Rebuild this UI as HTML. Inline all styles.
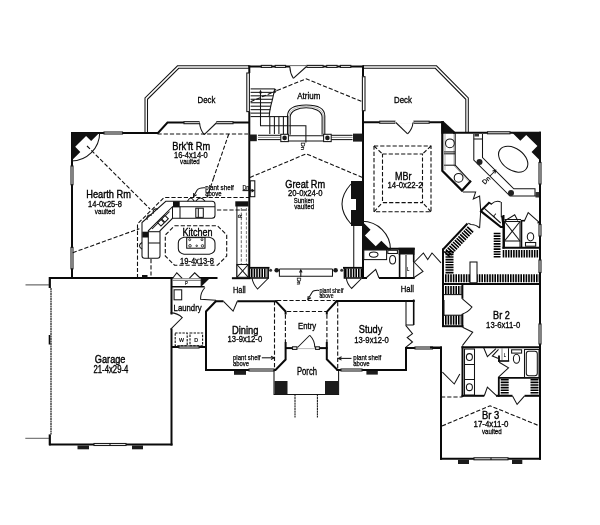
<!DOCTYPE html>
<html><head><meta charset="utf-8"><title>Floor plan</title>
<style>
html,body{margin:0;padding:0;background:#fff;}
body{width:600px;height:525px;overflow:hidden;}
svg{display:block;font-family:"Liberation Sans",sans-serif;}
.w{fill:none;stroke:#0a0a0a;stroke-linecap:butt;stroke-linejoin:miter;}
.t{fill:none;stroke:#141414;stroke-width:1.05;}
.d{fill:none;stroke:#111;stroke-width:1.1;stroke-dasharray:4.2 2;}
.tf{fill:#fff;stroke:#141414;stroke-width:1.05;}
.win{fill:#fff;stroke:#1c1c1c;stroke-width:1.1;}
text{fill:#000;stroke:#000;stroke-width:.2px;}
svg{filter:grayscale(1) blur(0.35px);}
</style></head><body>
<svg width="600" height="525" viewBox="0 0 600 525">
<rect width="600" height="525" fill="#fff"/>
<polyline class="t" points="145,133 145,98 177.5,65.8 249,65.8" />
<polyline class="t" points="147.5,133 147.5,99.3 178.7,68.3 249,68.3" />
<polyline class="t" points="363,65.8 436.5,65.8 468.3,98 468.3,132.5" />
<polyline class="t" points="363,68.3 435.3,68.3 465.8,99.3 465.8,132.5" />
<polyline class="w" style="stroke-width:2.0" points="71,133 158,133 167.5,122.5 249.5,122.5" />
<rect class="win" x="104" y="132" width="18.5" height="2"/>
<rect class="win" x="184" y="121.7" width="15.6" height="2"/>
<rect class="win" x="216.3" y="121.7" width="16.7" height="2"/>
<rect fill="#fff" x="199.6" y="121" width="16.7" height="3.4"/>
<polyline class="t" points="216.25,123 204.2,134.6" />
<path class="t" d="M204.2,134.6 Q200,129.5 199.6,123"/>
<polyline class="w" style="stroke-width:2.0" points="72,132 72,279" />
<rect class="win" x="71" y="166" width="2" height="18.7"/>
<rect class="win" x="71" y="247.4" width="2" height="21.4"/>
<polygon points="71.2,132.5 99.7,132.5 91.15,141.05 86.0588,135.959 75.2288,146.789 80.32,151.88 71.2,161" fill="#111" />
<path class="t" d="M99.7,132.5 A28.5,28.5 0 0 1 71.2,161"/>
<polyline class="d" points="157.5,134 248,134" />
<polyline class="d" points="228.75,134 213.75,177.5" />
<polyline class="d" points="213.75,177.5 207,197.5" />
<polyline class="d" points="87,146 150,209" />
<polyline class="d" points="72.7,252.7 139.4,228.7" />
<polyline class="w" style="stroke-width:2.0" points="49,278 171,278" />
<polyline class="w" style="stroke-width:2.0" points="171.5,277 171.5,445.5" />
<polyline class="w" style="stroke-width:2.0" points="49,444.5 172.5,444.5" />
<polyline class="w" style="stroke-width:2.2" points="49.8,277 49.8,288" />
<polyline class="w" style="stroke-width:2.2" points="49.8,434.4 49.8,445.3" />
<polyline class="t" points="51,288 51,434.5" style="stroke-dasharray:2 0.5;stroke-width:1.25;stroke:#222"/>
<polyline class="w" style="stroke-width:1.6" points="49.5,335 49.5,344.5" />
<polyline class="t" points="25.5,284.9 49,284.9" style="stroke:#333;stroke-width:.9"/>
<polyline class="t" points="25.3,438.3 49,438.3" style="stroke:#333;stroke-width:.8"/>
<rect class="win" x="94" y="443.5" width="32" height="2"/>
<polyline class="t" points="110,443.3 110,445.7" />
<rect x="77.5" y="445.5" width="11.5" height="3.8" fill="#1c1c1c"/>
<rect x="132" y="445.5" width="11" height="3.8" fill="#1c1c1c"/>
<rect fill="#fff" x="169.8" y="314.5" width="3.4" height="14"/>
<path class="t" d="M170.5,329.3 L182.3,317.6 A16.6,16.6 0 0 0 170.5,312.9"/>
<polyline class="w" style="stroke-width:2.0" points="171,278 173,278" />
<polyline class="w" style="stroke-width:2.0" points="200,278 217.5,278" />
<polyline class="w" style="stroke-width:2.0" points="231.9,278.2 250.5,278.2" />
<polyline class="t" points="172.5,280.4 201.2,280.4" style="stroke:#555;stroke-width:.8"/>
<polyline class="t" points="201.2,279 201.2,286.4" />
<polyline class="w" style="stroke-width:1.6" points="171,286.8 204.6,286.8" />
<polyline class="t" points="172.5,278.5 176.8,272.8 182.2,278.3" />
<polyline class="t" points="189.3,278.3 194.7,272.8 200.6,278.5" />
<polyline class="t" points="172.5,278.6 201,278.6" style="stroke:#666;stroke-width:.8"/>
<polygon points="201.2,278.6 209.5,278.6 201.2,286.8" fill="#111" />
<text x="185" y="285.4" font-size="5.6" textLength="2.8" lengthAdjust="spacingAndGlyphs" style="stroke-width:0.19px" >P</text>
<polyline class="w" style="stroke-width:2.0" points="248.5,66.4 364,66.4" />
<rect class="win" x="261.3" y="65.4" width="10.4" height="2"/>
<rect class="win" x="275.2" y="65.4" width="10.4" height="2"/>
<rect class="win" x="306.8" y="65.4" width="16.3" height="2"/>
<rect class="win" x="326.7" y="65.4" width="10.4" height="2"/>
<rect class="win" x="340.4" y="65.4" width="10.4" height="2"/>
<rect fill="#fff" x="290" y="64.7" width="16.3" height="3.4"/>
<polyline class="t" points="290,65.6 306.3,65.6" style="stroke:#444;stroke-width:.8"/>
<polyline class="t" points="306.5,66.5 293.3,78.3" />
<path class="t" d="M293.3,78.3 Q290,73 289.8,66.5"/>
<polyline class="w" style="stroke-width:2.0" points="249.3,65.4 249.3,73" />
<polyline class="w" style="stroke-width:2.0" points="249.3,111.6 249.3,278" />
<rect class="win" x="246.8" y="73" width="2.6" height="38.6"/>
<polyline class="w" style="stroke-width:2.0" points="363,65.4 363,76.7" />
<polyline class="w" style="stroke-width:2.0" points="363,110.7 363,279" />
<rect class="win" x="362.4" y="76.7" width="2.6" height="34"/>
<polyline class="d" points="277,90.5 306.2,78.8 362.5,101.8" />
<polyline class="d" points="250,177.5 306.2,153.8 362.5,177.5" />
<polyline class="t" points="258,135.3 281,135.3" />
<polyline class="t" points="331,135.3 352.5,135.3" />
<polyline class="t" points="258,139.6 281,139.6" />
<polyline class="t" points="331,139.6 352.5,139.6" />
<polyline class="t" points="258,137.4 281,137.4" style="stroke:#666;stroke-width:.7"/>
<polyline class="t" points="331,137.4 352.5,137.4" style="stroke:#666;stroke-width:.7"/>
<rect x="249.5" y="134.5" width="7.3" height="6.7" fill="#1c1c1c"/>
<rect x="353" y="133.6" width="9.5" height="8" fill="#1c1c1c"/>
<polyline class="t" points="250.6,88.9 274.7,88.9" />
<polyline class="t" points="250.6,92.36 273.658,92.36" />
<polyline class="t" points="250.6,95.82 272.886,95.82" />
<polyline class="t" points="250.6,99.28 272.19,99.28" />
<polyline class="t" points="250.6,102.74 271.541,102.74" />
<polyline class="t" points="250.6,106.2 270.924,106.2" />
<polyline class="t" points="250.6,109.66 270.331,109.66" />
<polyline class="t" points="250.6,113.12 269.757,113.12" />
<polyline class="t" points="250.6,116.58 269.2,116.58" />
<path class="t" d="M274.7,88.9 Q272.5,100 271,105 Q269.5,111 269.2,116.6"/>
<path class="t" d="M274.7,88.9 Q277,90 275.5,92 Q274.5,93 273.8,92.6"/>
<polyline class="t" points="269.2,116.6 288.4,116.6" />
<polyline class="t" points="269.8,116.6 269.8,134" />
<polyline class="t" points="274.4,116.6 274.4,134" />
<polyline class="t" points="278.9,116.6 278.9,134" />
<polyline class="t" points="283.4,116.6 283.4,134" />
<polyline class="t" points="287.9,116.6 287.9,134" />
<polyline class="t" points="260.5,91 260.5,125.8 305.9,125.8 305.9,142.5" />
<polygon points="259,93.3 260.5,89.6 262,93.3" fill="#111" />
<polyline class="d" points="250.6,101.7 275.4,91.2" />
<path class="t"  d="M287.5,134.8 V116 C287.5,108 296,105 306.15,105 C316.3,105 324.8,108 324.8,116 V134.8"/>
<path class="t"  d="M290.2,134.8 V117.08 C290.2,110.7 298.7,107.7 306.15,107.7 C313.6,107.7 322.1,110.7 322.1,117.08 V134.8"/>
<path class="t" style="stroke:#888;stroke-width:.6" d="M288.85,134.8 V116.54 C288.85,109.35 297.35,106.35 306.15,106.35 C314.95,106.35 323.45,109.35 323.45,116.54 V134.8"/>
<polyline class="t" points="288.9,135.8 323.5,135.8" />
<polyline class="t" points="288.9,141 323.5,141" />
<rect class="tf" x="280.8" y="134.3" width="7.6" height="7.3"/>
<circle cx="284.6" cy="137.9" r="2.3" fill="#1a1a1a"/>
<rect class="tf" x="323.6" y="134.3" width="7.6" height="7.3"/>
<circle cx="327.4" cy="137.9" r="2.3" fill="#1a1a1a"/>
<text transform="translate(300.8,142.6) rotate(90)" font-size="5.8">Dn</text>
<rect class="tf" x="250.3" y="180.8" width="4.5" height="15.9"/>
<text x="242.5" y="189.6" font-size="7" textLength="6.8" lengthAdjust="spacingAndGlyphs" style="stroke-width:0.24px" >Dn</text>
<polyline class="t" points="242.5,190.6 253.5,190.6" />
<polyline class="t" points="251.5,189.2 253.8,190.6 251.5,192" />
<polygon points="351,181 362.5,181 362.5,226 351,226 351,210 356,210 356,199 351,199" fill="#111" />
<path class="t" d="M351,184 Q333,204 351,224"/>
<polyline class="t" points="353.75,226 353.75,267" />
<line x1="251" y1="273" x2="267.5" y2="273" stroke="#000" stroke-width="9" stroke-dasharray="1.6 1.0"/>
<line x1="345" y1="273" x2="362.5" y2="273" stroke="#000" stroke-width="9" stroke-dasharray="1.6 1.0"/>
<polyline class="w" style="stroke-width:1.8" points="249,267.8 269.5,267.8" />
<polyline class="w" style="stroke-width:1.8" points="343,267.8 363,267.8" />
<polyline class="w" style="stroke-width:1.3" points="250,278 268.3,278 268.3,267.8" />
<polyline class="w" style="stroke-width:1.3" points="362,278 344.3,278 344.3,267.8" />
<circle cx="276.7" cy="270.2" r="2.3" fill="#1a1a1a"/>
<circle cx="335.6" cy="270.2" r="2.3" fill="#1a1a1a"/>
<circle cx="270.6" cy="270.2" r="1.5" fill="#333"/>
<circle cx="341.7" cy="270.2" r="1.5" fill="#333"/>
<polyline class="t" points="279.4,268.9 332.5,268.9" />
<polyline class="t" points="279.4,268.9 279.4,276.3 332.5,276.3 332.5,268.9" />
<polyline class="t" points="300.8,270.5 300.8,277" />
<polyline class="t" points="299.5,272.6 300.8,270 302.1,272.6" />
<text transform="translate(296.9,277.4) rotate(90)" font-size="5.8">Dn</text>
<path class="t" d="M268.5,278 L257.5,289 Q253,284 252,278"/>
<path class="t" d="M361.5,278.5 L351.6,288.4 Q347,284 346.3,278"/>
<path class="tf" d="M165.8,201.3 H212 Q215,201.3 215,204.3 V215.3 Q215,218.3 212,218.3 H172.5 L160,230.8 V255.8 Q160,258.3 157.5,258.3 H144.5 Q142,258.3 142,255.8 V222.5 Z"/>
<polyline class="t" points="215,206.7 172.5,206.7 148.3,230.8 148.3,258.3" />
<polyline class="t" points="169.5,211.5 152,229" />
<polyline class="t" points="172.5,206.7 172.5,218.3" />
<polyline class="t" points="180,206.7 180,218.3" />
<polyline class="t" points="148.3,231.7 160,231.7" />
<polyline class="t" points="148.3,243 160,243" />
<rect class="tf" x="195.8" y="208.2" width="7.5" height="9.2"/>
<polyline class="t" points="198.3,208.2 198.3,217.4" />
<g transform="translate(163,220.8) rotate(-45)"><rect class="tf" x="-5.2" y="-2.3" width="4.8" height="4.6"/><rect class="tf" x="0.4" y="-2.3" width="4.8" height="4.6"/></g>
<path class="t" d="M187.5,201.3 q3.3,-6.5 6.7,0"/>
<path class="t" d="M195.8,201.3 q4.6,-6.5 9.2,0"/>
<path class="t" d="M158,209.1 q-6,-1.2 -4.6,4.6"/>
<path class="t" d="M151.8,215.3 q-6,-1.2 -4.6,4.6"/>
<path class="t" d="M142,242.5 q-5,3.3 0,6.6"/>
<rect x="173" y="201.3" width="6.7" height="5.9" fill="#111"/>
<rect x="142.3" y="231.7" width="6" height="5.8" fill="#111"/>
<rect x="235.3" y="201.3" width="13.2" height="5.2" fill="#111"/>
<rect x="142" y="275" width="5.5" height="3" fill="#111"/>
<polyline class="d" points="250,197.5 164,197.5 137.5,224 137.5,277.5" />
<polyline class="d" points="151,259 151,277.5" />
<polyline class="d" points="217,210 250,210" />
<polyline class="d" points="174.5,225.8 217.5,225.8 226.7,235 226.7,256 217.5,265.2 174.5,265.2 165.3,256 165.3,235 174.5,225.8" />
<path class="tf" d="M184,237.2 H209.3 Q215,238.5 215,243 V248.5 Q215,253 209.3,254.2 H184 Q178.3,253 178.3,248.5 V243 Q178.3,238.5 184,237.2 Z"/>
<rect class="tf" x="186.7" y="237.6" width="18.3" height="10.6"/>
<circle class="t" cx="189.7" cy="239.7" r="1" fill="none" style="stroke-width:.8"/>
<circle class="t" cx="202" cy="239.7" r="1" fill="none" style="stroke-width:.8"/>
<circle class="t" cx="190" cy="245.8" r="1.3" fill="none" style="stroke-width:.8"/>
<circle class="t" cx="196.7" cy="245.8" r="0.8" fill="none" style="stroke-width:.8"/>
<circle class="t" cx="202.5" cy="245.8" r="1.2" fill="none" style="stroke-width:.8"/>
<polyline class="t" points="236.9,205.6 236.9,277.5" />
<polyline class="d" points="241.3,208 241.3,264" style="stroke:#444;stroke-width:.8;stroke-dasharray:3 1.6"/>
<polyline class="d" points="246.4,208 246.4,264" style="stroke:#555;stroke-width:.8;stroke-dasharray:3 1.6"/>
<rect class="tf" x="236.9" y="264.5" width="11.4" height="12.8"/>
<polyline class="t" points="236.9,264.5 248.3,277.3" />
<polyline class="t" points="248.3,264.5 236.9,277.3" />
<text transform="translate(242.3,216) rotate(-90)" font-size="4.5" text-anchor="middle">R</text>
<path class="t" d="M205,187.8 Q199,187.5 197,190.2 L193.5,196.6"/>
<polyline class="t" points="193.7,193 193.5,196.6 196.6,194.8" />
<polyline class="w" style="stroke-width:2.0" points="215.5,301.3 277,301.3" />
<polyline class="w" style="stroke-width:2.0" points="216.3,300.8 206,311.5 206,371" />
<polyline class="w" style="stroke-width:2.0" points="205,370 275.5,370 285.6,359.5 285.6,342" />
<polyline class="w" style="stroke-width:2.0" points="275.3,300.6 285.6,311.5 285.6,314.4" />
<polyline class="d" points="287,311.5 326,311.5" />
<polyline class="d" points="285.4,314.5 285.4,342" />
<rect fill="#fff" x="223.5" y="299.6" width="13.8" height="3.4"/>
<polyline class="t" points="223.5,301.3 233.1,311.1 237.3,301.3" />
<rect class="win" x="249" y="369" width="25" height="2"/>
<rect x="234" y="371" width="12" height="3.8" fill="#1c1c1c"/>
<polyline class="d" points="274.5,301 274.5,369" />
<polyline class="d" points="277,300.5 335,300.5" />
<polyline class="t" points="261.8,357.8 274,357.8" />
<polyline class="t" points="271,356.1 274.2,357.8 271,359.5" />
<polyline class="w" style="stroke-width:2.0" points="285,348.1 292.5,348.1" />
<polyline class="w" style="stroke-width:2.0" points="319.4,348.1 327.6,348.1" />
<polyline class="t" points="297,348.6 315.6,348.6" style="stroke:#888;stroke-width:.6"/>
<rect class="win" x="292.5" y="346.8" width="4.4" height="2.6"/>
<rect class="win" x="315.6" y="346.8" width="3.8" height="2.6"/>
<polyline class="t" points="297.5,347.5 309.75,335.25" />
<path class="t" d="M309.75,335.25 A17.3,17.3 0 0 1 314.8,347.5"/>
<polyline class="w" style="stroke-width:2.0" points="326.8,342 326.8,359.3 337.5,370" />
<polyline class="w" style="stroke-width:2.0" points="326.8,314.4 326.8,311.8 337,300.8" />
<polyline class="d" points="326.9,314.5 326.9,342" />
<polyline class="t" points="274,370 274,394.4 338.6,394.4 338.6,370" />
<rect x="274.5" y="381" width="13" height="13.4" fill="#1c1c1c"/>
<rect x="325" y="381" width="13.2" height="13.4" fill="#1c1c1c"/>
<polyline class="t" points="295,394.4 295,417.6" style="stroke-dasharray:2.2 0.5"/>
<polyline class="t" points="317.4,394.4 317.4,417.6" style="stroke-dasharray:2.2 0.5"/>
<polyline class="w" style="stroke-width:2.0" points="335.5,301 414.7,301" />
<polyline class="w" style="stroke-width:2.0" points="336.5,370 407,370" />
<polyline class="w" style="stroke-width:2.0" points="406,371 406,347" />
<polyline class="w" style="stroke-width:2.0" points="405,348 442,348" />
<rect class="win" x="415" y="347" width="17.5" height="2"/>
<rect class="win" x="341" y="369" width="21" height="2"/>
<rect x="366.4" y="371" width="11.4" height="3.6" fill="#1c1c1c"/>
<polyline class="d" points="337.7,302 337.7,369" />
<polyline class="t" points="405.7,347.4 412.5,342 407.2,337.5 412.5,333.7 405.7,325.3" />
<polyline class="t" points="406,300.5 406,325 413.7,325" />
<polyline class="w" style="stroke-width:1.6" points="413.7,299.5 413.7,325" />
<polyline class="t" points="351.5,358.4 338.6,358.4" />
<polyline class="t" points="341.6,356.7 338.4,358.4 341.6,360.1" />
<polyline class="w" style="stroke-width:2.0" points="171,347 207,347" />
<rect class="win" x="179" y="346" width="20" height="2"/>
<rect class="tf" x="174.1" y="289.8" width="7.6" height="10"/>
<polyline class="t" points="172.8,288 172.8,300" style="stroke:#777;stroke-width:.7"/>
<rect class="d" x="175.2" y="333" width="12" height="12.8" fill="none" style="stroke-dasharray:2.4 1.2"/>
<rect class="d" x="190" y="333" width="12.6" height="12.8" fill="none" style="stroke-dasharray:2.4 1.2"/>
<text x="179" y="342" font-size="6" textLength="5" lengthAdjust="spacingAndGlyphs" style="stroke-width:0.20px" >W</text>
<text x="194.3" y="342" font-size="6" textLength="3.9" lengthAdjust="spacingAndGlyphs" style="stroke-width:0.20px" >D</text>
<path class="t" d="M205,287.5 Q200.3,292.5 200.6,299.2 L216,300.2"/>
<polyline class="w" style="stroke-width:2.0" points="362,248.8 414.7,248.8" />
<rect x="398.5" y="247.8" width="16.2" height="6.7" fill="#111"/>
<polygon points="362,249.8 362,221.3 370.55,229.85 364.893,235.507 375.723,246.337 381.38,240.68 390.5,249.8" fill="#111" />
<path class="t" d="M362,221.3 A28.5,28.5 0 0 1 390.5,249.8"/>
<polyline class="w" style="stroke-width:2.0" points="363,278 367,278" />
<polyline class="w" style="stroke-width:2.0" points="379,278 414.7,278" />
<polyline class="w" style="stroke-width:1.6" points="399.6,254 399.6,279" />
<polyline class="w" style="stroke-width:1.6" points="413.7,254 413.7,262" />
<polyline class="t" points="413.7,262 413.7,278" />
<polyline class="t" points="366,278 375.7,269.3 379,278" />
<rect class="tf" x="363.8" y="250" width="22.8" height="9.6"/>
<ellipse class="tf" cx="373.7" cy="254.6" rx="4.3" ry="2.6"/>
<rect class="tf" x="387.8" y="250.3" width="9.6" height="3.2"/>
<ellipse class="tf" cx="392.6" cy="259.8" rx="3" ry="4.3"/>
<polyline class="t" points="406,255 406,277" />
<text x="407" y="270.5" font-size="4.5" textLength="2.3" lengthAdjust="spacingAndGlyphs" style="stroke-width:0.15px" >L</text>
<polyline class="t" points="414,262 423,271.5 414,277.5" />
<polyline class="t" points="414.5,262 423.4,253 427.7,259.5 432,253 441,262.8" />
<polyline class="w" style="stroke-width:2.0" points="362,122.2 444,122.2" />
<polygon points="441.3,121.3 443.5,121.3 455.5,132.2 455.5,133.8 441.3,133.8" fill="#111" />
<rect class="win" x="379.7" y="121.2" width="15.6" height="2"/>
<rect class="win" x="413.6" y="121.2" width="15.6" height="2"/>
<rect fill="#fff" x="395.3" y="120.5" width="18.3" height="3.4"/>
<polyline class="t" points="395.8,122.5 407.6,133.9" />
<path class="t" d="M407.6,133.9 Q412.5,129 413,122.5"/>
<polyline class="w" style="stroke-width:2.2" points="442.3,121.2 442.3,170.8 462,190.6 471,180.7" />
<polyline class="d" points="374,146 431,146 431,211.8 374,211.8 374,146" />
<polyline class="d" points="382.5,154 422.5,154 422.5,202.6 382.5,202.6 382.5,154" />
<polyline class="d" points="374,146 382.5,154" />
<polyline class="d" points="431,146 422.5,154" />
<polyline class="d" points="431,211.8 422.5,202.6" />
<polyline class="d" points="374,211.8 382.5,202.6" />
<polyline class="t" points="455.2,133.5 455.2,165.2 470.3,181.3" />
<polyline class="t" points="454,133.5 454,165.7 469.3,182" style="stroke:#777;stroke-width:.6"/>
<polyline class="t" points="444,151.9 455,151.9" />
<polyline class="t" points="444,153.8 455,153.8" />
<polyline class="t" points="444,165.2 455,165.2" />
<polyline class="t" points="445,134 445,170" style="stroke:#777;stroke-width:.6"/>
<circle class="tf" cx="449.9" cy="143.3" r="4.4"/>
<circle class="tf" cx="458.6" cy="177.8" r="4.4"/>
<polyline class="w" style="stroke-width:2.0" points="453,132.8 541,132.8" />
<rect class="win" x="487.5" y="131.8" width="22.5" height="2"/>
<polyline class="w" style="stroke-width:2.0" points="540,131.8 540,459.8" />
<rect class="win" x="539" y="162.5" width="2" height="21.5"/>
<rect class="win" x="539" y="224.5" width="2" height="11.5"/>
<rect class="win" x="539" y="260" width="2" height="12.5"/>
<rect class="win" x="539" y="324" width="2" height="20"/>
<polygon points="541,131.9 511.5,131.9 520.35,140.75 526.219,134.881 537.429,146.091 531.56,151.96 541,161.4" fill="#111" />
<ellipse class="tf" cx="513.2" cy="159.2" rx="16.3" ry="10.8" transform="rotate(36 513.2 159.2)"/>
<polyline class="t" points="473.8,134 473.8,160 510,196 538.8,196" />
<polyline class="t" points="482.5,134 482.5,157.5 513.8,188.8 535,188.8 535,196" />
<polyline class="t" points="473.8,139 482.5,139" />
<circle cx="479.5" cy="162" r="3" fill="#222"/>
<circle cx="511" cy="193" r="3" fill="#222"/>
<rect x="474.5" y="133.8" width="4.5" height="2.7" fill="#333"/>
<rect x="535.5" y="192" width="3.5" height="5.5" fill="#333"/>
<text transform="translate(487.8,181.8) rotate(-45)" font-size="6.6" text-anchor="middle">Dn</text>
<polyline class="t" points="490,176 495.5,170.5" />
<polyline class="t" points="492.5,171 495.7,170.3 495,173.5" />
<polyline class="t" points="463,192 475.6,192.1 473.3,199 479.6,196.1 480.7,210.4" />
<polyline class="t" points="480.7,211 479.6,228" />
<path class="t" d="M479.6,228 Q476,224.5 471,224.5 L468.3,223.3"/>
<polyline class="w" style="stroke-width:2.2" points="480.2,210.6 500.8,227 503.5,227" />
<polyline class="w" style="stroke-width:2.0" points="503.5,215 503.5,248.7" />
<polyline class="w" style="stroke-width:2.0" points="502.5,247.7 541,247.7" />
<polyline class="w" style="stroke-width:2.0" points="480.7,211 489.6,202.2" />
<polyline class="w" style="stroke-width:1.5" points="489,202.5 491.8,204.4" />
<path class="t" d="M491.6,203.8 Q496,200 500.7,201.9"/>
<polyline class="t" points="501.3,201.9 501.3,217.3" />
<polyline class="w" style="stroke-width:1.8" points="502,216 503.3,226" />
<polyline class="t" points="484.1,208.1 500.7,223" />
<text transform="translate(494,216.8) rotate(45)" font-size="5" text-anchor="middle">L</text>
<rect class="tf" x="504.5" y="221.5" width="15.5" height="19.5"/>
<polyline class="t" points="504.5,221.5 520,241" />
<polyline class="t" points="520,221.5 504.5,241" />
<polyline class="t" points="504.5,241 504.5,247" />
<polyline class="t" points="520,241 520,247" />
<polyline class="t" points="505,220.7 514.7,214.7 517.7,220.4" />
<polyline class="t" points="504.5,219.5 521,219.5" />
<polyline class="w" style="stroke-width:1.6" points="521.5,220 521.5,248" />
<polyline class="w" style="stroke-width:1.6" points="521,220.7 525,220.7" />
<polyline class="t" points="524.5,220.7 528.2,212.5 539.5,222.7" />
<polyline class="w" style="stroke-width:1.6" points="537.5,222.7 540,222.7" />
<ellipse class="tf" cx="530.5" cy="236.8" rx="3.2" ry="4.1"/>
<rect class="tf" x="525.5" y="242.5" width="10.2" height="3.7"/>
<polyline class="w" style="stroke-width:2.0" points="443,249.5 467.5,223.5" />
<polyline class="w" style="stroke-width:2.0" points="443,248.5 443,327" />
<polyline class="w" style="stroke-width:2.0" points="442,284 541,284" />
<line x1="446.5" y1="254.8" x2="471.5" y2="228.2" stroke="#000" stroke-width="8" stroke-dasharray="1.6 1.0"/>
<line x1="449.5" y1="251" x2="449.5" y2="274" stroke="#000" stroke-width="8" stroke-dasharray="1.6 1.0"/>
<line x1="445" y1="278.3" x2="539" y2="278.3" stroke="#000" stroke-width="8" stroke-dasharray="1.6 1.0"/>
<rect class="tf" x="470" y="262" width="7" height="20.8"/>
<line x1="497.1" y1="232.7" x2="497.1" y2="257.5" stroke="#000" stroke-width="6.8" stroke-dasharray="1.6 1.0"/>
<line x1="502.7" y1="253.7" x2="538.7" y2="253.7" stroke="#000" stroke-width="7.5" stroke-dasharray="1.6 1.0"/>
<polyline class="w" style="stroke-width:1.9" points="462.4,284 462.4,298.8" />
<polyline class="w" style="stroke-width:1.9" points="462.4,313.9 462.4,327.2" />
<polyline class="t" points="444,300 444,316" />
<line x1="445" y1="290.3" x2="461.5" y2="290.3" stroke="#000" stroke-width="8.5" stroke-dasharray="1.6 1.0"/>
<line x1="445" y1="320" x2="461.5" y2="320" stroke="#000" stroke-width="9.5" stroke-dasharray="1.6 1.0"/>
<polyline class="t" points="444,294.6 462.5,294.6" />
<polyline class="t" points="444,315.2 462.5,315.2" />
<path class="t" d="M462.4,298.8 L472,307 Q468,312.5 462.4,313.9"/>
<polyline class="w" style="stroke-width:2" points="442,326.2 463.4,326.2" />
<polyline class="t" points="462.6,327.2 472.7,332.2 462.4,345.6" />
<polyline class="w" style="stroke-width:2.0" points="461.5,347.3 541,347.3" />
<polyline class="w" style="stroke-width:2.0" points="462.5,346.3 462.5,397" />
<polyline class="w" style="stroke-width:2.0" points="461.5,395.8 484.3,395.8" />
<polyline class="w" style="stroke-width:2.0" points="496,395.8 512.5,395.8" />
<polyline class="w" style="stroke-width:2.0" points="524.6,395.8 541,395.8" />
<polyline class="w" style="stroke-width:1.8" points="498,377.8 540,377.8" />
<polyline class="w" style="stroke-width:1.8" points="498.8,376.9 498.8,396.8" />
<line x1="504.7" y1="379" x2="504.7" y2="394.8" stroke="#000" stroke-width="8" stroke-dasharray="1.6 1.0"/>
<line x1="534.5" y1="379" x2="534.5" y2="394.8" stroke="#000" stroke-width="8" stroke-dasharray="1.6 1.0"/>
<polyline class="t" points="512.5,396 517.1,404.4 524.6,395.8" />
<polyline class="t" points="484.3,395.8 487.4,387.1 496.7,395.8" />
<polyline class="t" points="499.2,362.3 508.5,367.9 498.5,377.2" />
<rect class="tf" x="464.5" y="349" width="10" height="46"/>
<polyline class="t" points="464.5,364.5 474.5,364.5" />
<polyline class="t" points="464.5,379.5 474.5,379.5" />
<ellipse class="tf" cx="469.4" cy="357" rx="3" ry="3.4"/>
<ellipse class="tf" cx="469.4" cy="387.2" rx="3" ry="3.4"/>
<polyline class="t" points="483.7,347.7 487.4,356.7 496,348.7" />
<polyline class="t" points="508.5,348.3 508.5,361" />
<polyline class="t" points="502,348.3 502,360" style="stroke:#555;stroke-width:.7"/>
<polyline class="w" style="stroke-width:1.6" points="498,361 509.2,361" />
<polyline class="w" style="stroke-width:1.8" points="499,355.5 499,361.8" />
<polyline class="t" points="498.5,349.3 492.3,356.1 498.5,358.6" />
<text x="503.8" y="357" font-size="4.8" textLength="2.2" lengthAdjust="spacingAndGlyphs" style="stroke-width:0.16px" >L</text>
<rect class="tf" x="511.6" y="349.8" width="10" height="3.3"/>
<ellipse class="tf" cx="516.5" cy="358.8" rx="3.1" ry="4.5"/>
<rect class="tf" x="524.5" y="349.5" width="14.5" height="28"/>
<rect class="tf" x="526.3" y="351.3" width="11" height="24.4" rx="2.5"/>
<polyline class="w" style="stroke-width:2.0" points="430,347.5 442,347.5" />
<polyline class="w" style="stroke-width:2.0" points="441,346.5 441,459.8" />
<polyline class="w" style="stroke-width:2.0" points="440,458.8 541,458.8" />
<rect class="win" x="474" y="457.8" width="34" height="2"/>
<polyline class="t" points="491,457.7 491,459.9" />
<rect x="458" y="459.8" width="11" height="4.2" fill="#1c1c1c"/>
<rect x="512" y="459.8" width="10.3" height="4.2" fill="#1c1c1c"/>
<polyline class="t" points="442.4,372.1 454.3,384 459.8,373.9" />
<polyline class="d" points="441,397 462.5,397" />
<polyline class="d" points="442,426 490.1,405.8 539.7,426" />
<text x="197.5" y="103" font-size="9.8" textLength="17.8" lengthAdjust="spacingAndGlyphs" style="stroke-width:0.33px" >Deck</text>
<text x="394" y="103" font-size="9.8" textLength="17.8" lengthAdjust="spacingAndGlyphs" style="stroke-width:0.33px" >Deck</text>
<text x="297.3" y="99.3" font-size="9.6" textLength="23" lengthAdjust="spacingAndGlyphs" style="stroke-width:0.33px" >Atrium</text>
<text x="172.3" y="150.1" font-size="11.8" textLength="37.9" lengthAdjust="spacingAndGlyphs" style="stroke-width:0.40px" >Brk'ft Rm</text>
<text x="174" y="158.4" font-size="9.3" textLength="33.8" lengthAdjust="spacingAndGlyphs" style="stroke-width:0.32px" >16-4x14-0</text>
<text x="180.1" y="163.9" font-size="7.5" textLength="19.6" lengthAdjust="spacingAndGlyphs" style="stroke-width:0.26px" >vaulted</text>
<text x="86.2" y="198.4" font-size="11.8" textLength="44.8" lengthAdjust="spacingAndGlyphs" style="stroke-width:0.40px" >Hearth Rm</text>
<text x="88" y="206.5" font-size="9.3" textLength="34" lengthAdjust="spacingAndGlyphs" style="stroke-width:0.32px" >14-0x25-8</text>
<text x="94.8" y="213.6" font-size="7.5" textLength="20.2" lengthAdjust="spacingAndGlyphs" style="stroke-width:0.26px" >vaulted</text>
<text x="285.3" y="187.7" font-size="11.8" textLength="39.9" lengthAdjust="spacingAndGlyphs" style="stroke-width:0.40px" >Great Rm</text>
<text x="288.1" y="196.3" font-size="9.3" textLength="34.5" lengthAdjust="spacingAndGlyphs" style="stroke-width:0.32px" >20-0x24-0</text>
<text x="293.7" y="203" font-size="7.5" textLength="20.4" lengthAdjust="spacingAndGlyphs" style="stroke-width:0.26px" >Sunken</text>
<text x="294.3" y="209.4" font-size="7.5" textLength="19.8" lengthAdjust="spacingAndGlyphs" style="stroke-width:0.26px" >vaulted</text>
<text x="395.1" y="180.1" font-size="11.8" textLength="16.4" lengthAdjust="spacingAndGlyphs" style="stroke-width:0.40px" >MBr</text>
<text x="387.5" y="188.3" font-size="9.3" textLength="35" lengthAdjust="spacingAndGlyphs" style="stroke-width:0.32px" >14-0x22-2</text>
<text x="182.5" y="235.8" font-size="10.8" textLength="30" lengthAdjust="spacingAndGlyphs" style="stroke-width:0.37px" >Kitchen</text>
<text x="180" y="263.5" font-size="9.3" textLength="34" lengthAdjust="spacingAndGlyphs" style="stroke-width:0.32px" >19-4x13-8</text>
<text x="205.2" y="190.4" font-size="7.3" textLength="28.6" lengthAdjust="spacingAndGlyphs" style="stroke-width:0.25px" >plant shelf</text>
<text x="205.2" y="195.8" font-size="7.3" textLength="16.3" lengthAdjust="spacingAndGlyphs" style="stroke-width:0.25px" >above</text>
<text x="233.1" y="292.5" font-size="9.1" textLength="12.6" lengthAdjust="spacingAndGlyphs" style="stroke-width:0.31px" >Hall</text>
<text x="400.8" y="292.2" font-size="9.3" textLength="13.2" lengthAdjust="spacingAndGlyphs" style="stroke-width:0.32px" >Hall</text>
<text x="173.6" y="311.1" font-size="9.5" textLength="28" lengthAdjust="spacingAndGlyphs" style="stroke-width:0.32px" >Laundry</text>
<text x="94.8" y="363.4" font-size="11.8" textLength="30.7" lengthAdjust="spacingAndGlyphs" style="stroke-width:0.40px" >Garage</text>
<text x="93.5" y="372.9" font-size="10" textLength="34.8" lengthAdjust="spacingAndGlyphs" style="stroke-width:0.34px" >21-4x29-4</text>
<text x="231.9" y="334" font-size="11.8" textLength="26.6" lengthAdjust="spacingAndGlyphs" style="stroke-width:0.40px" >Dining</text>
<text x="227.6" y="342.3" font-size="9.3" textLength="34.6" lengthAdjust="spacingAndGlyphs" style="stroke-width:0.32px" >13-9x12-0</text>
<text x="233" y="360" font-size="7.3" textLength="27.5" lengthAdjust="spacingAndGlyphs" style="stroke-width:0.25px" >plant shelf</text>
<text x="233" y="366.2" font-size="7.3" textLength="16" lengthAdjust="spacingAndGlyphs" style="stroke-width:0.25px" >above</text>
<text x="298.1" y="329.4" font-size="9.9" textLength="18.1" lengthAdjust="spacingAndGlyphs" style="stroke-width:0.34px" >Entry</text>
<text x="297" y="375.2" font-size="10" textLength="20" lengthAdjust="spacingAndGlyphs" style="stroke-width:0.34px" >Porch</text>
<text x="358.8" y="333.2" font-size="11.8" textLength="23.5" lengthAdjust="spacingAndGlyphs" style="stroke-width:0.40px" >Study</text>
<text x="354.3" y="342.5" font-size="9.3" textLength="34.5" lengthAdjust="spacingAndGlyphs" style="stroke-width:0.32px" >13-9x12-0</text>
<text x="353.3" y="359.8" font-size="7.3" textLength="28" lengthAdjust="spacingAndGlyphs" style="stroke-width:0.25px" >plant shelf</text>
<text x="353.3" y="366.2" font-size="7.3" textLength="16.3" lengthAdjust="spacingAndGlyphs" style="stroke-width:0.25px" >above</text>
<text x="319.5" y="292.5" font-size="6.935" textLength="23.9" lengthAdjust="spacingAndGlyphs" style="stroke-width:0.24px" >plant shelf</text>
<text x="319.5" y="297.8" font-size="6.935" textLength="14" lengthAdjust="spacingAndGlyphs" style="stroke-width:0.24px" >above</text>
<path class="t" d="M319,290.4 Q313.5,290 312,292.5 L307.8,299.5"/>
<polyline class="t" points="308.2,296 307.8,299.5 311,297.8" />
<text x="493.1" y="318.5" font-size="11.8" textLength="16.7" lengthAdjust="spacingAndGlyphs" style="stroke-width:0.40px" >Br 2</text>
<text x="486.1" y="327.5" font-size="9.3" textLength="34.1" lengthAdjust="spacingAndGlyphs" style="stroke-width:0.32px" >13-6x11-0</text>
<text x="482" y="418.7" font-size="11.8" textLength="17.3" lengthAdjust="spacingAndGlyphs" style="stroke-width:0.40px" >Br 3</text>
<text x="473.6" y="427.4" font-size="9.3" textLength="34.9" lengthAdjust="spacingAndGlyphs" style="stroke-width:0.32px" >17-4x11-0</text>
<text x="481.9" y="434.2" font-size="7.5" textLength="19.8" lengthAdjust="spacingAndGlyphs" style="stroke-width:0.26px" >vaulted</text>
</svg>
</body></html>
